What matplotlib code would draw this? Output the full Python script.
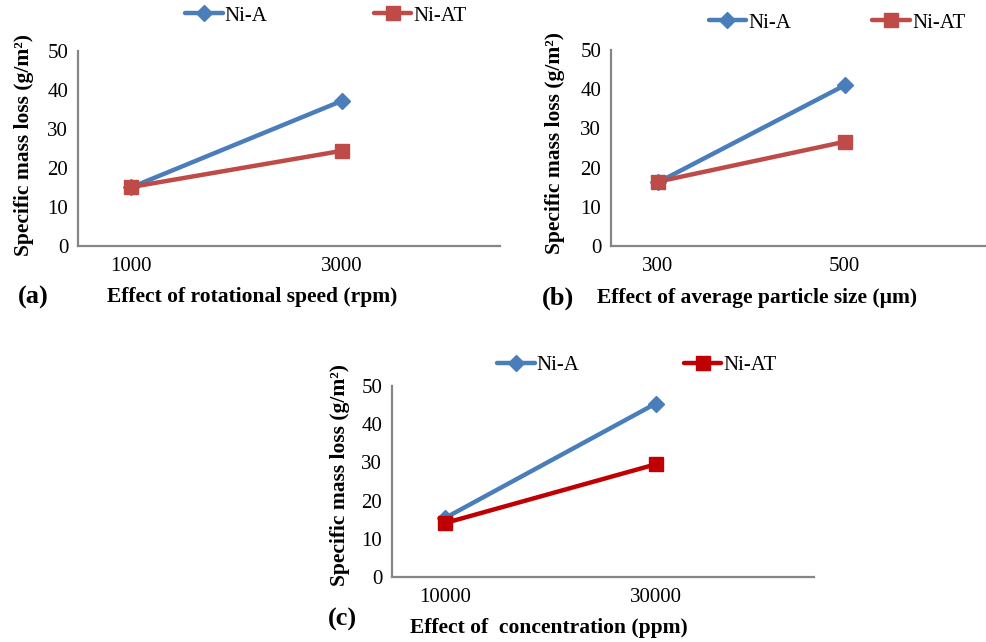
import matplotlib
matplotlib.use("Agg")
import matplotlib.pyplot as plt
import numpy as np

plt.rcParams['font.family'] = ['Liberation Serif', 'DejaVu Serif']

# ---- data ----
cats_a = ['1000', '3000']
nia_a = [15.0, 37.2]
niat_a = [15.1, 24.4]
xlabel_a = 'Effect of rotational speed (rpm)'

cats_b = ['300', '500']
nia_b = [16.2, 41.0]
niat_b = [16.4, 26.6]
xlabel_b = 'Effect of average particle size (\u00b5m)'

cats_c = ['10000', '30000']
nia_c = [15.4, 45.4]
niat_c = [14.1, 29.5]
xlabel_c = 'Effect of  concentration (ppm)'

ylabel = 'Specific mass loss (g/m\u00b2)'
yticks = [0, 10, 20, 30, 40, 50]
series_names = ['Ni-A', 'Ni-AT']

W, H = 987, 642
fig = plt.figure(figsize=(W / 100, H / 100), dpi=100)

def px_axes(left, right, top, bottom):
    return fig.add_axes([left / W, 1 - bottom / H, (right - left) / W, (bottom - top) / H])

blue = '#4A7EBB'

def panel(box, cats, a, at, red, xlabel, tag, tagpos, xlabpos, ylabpos, legpos, colsp):
    ax = px_axes(*box)
    x = np.arange(len(cats)) * 2
    ax.plot(x, a, color=blue, lw=3.2, marker='D', ms=8, label=series_names[0],
            solid_capstyle='round', zorder=3)
    ax.plot(x, at, color=red, lw=3.2, marker='s', ms=10, label=series_names[1],
            solid_capstyle='round', zorder=4)
    ax.set_xlim(-0.5, 3.5)
    ax.set_ylim(0, 50)
    ax.set_yticks(yticks)
    ax.set_xticks(x)
    ax.set_xticklabels(cats)
    for s in ['top', 'right']:
        ax.spines[s].set_visible(False)
    for s in ['left', 'bottom']:
        ax.spines[s].set_color('#868686')
        ax.spines[s].set_linewidth(1.6)
    ax.tick_params(length=0, labelsize=15, pad=7)
    ax.tick_params(axis='x', pad=8)
    ax.set_facecolor('none')
    ax.legend(ncol=2, loc='center', frameon=False, fontsize=15,
              bbox_to_anchor=((legpos[0] - box[0]) / (box[1] - box[0]),
                              (box[3] - legpos[1]) / (box[3] - box[2])),
              handlelength=1.8, handletextpad=0.1, columnspacing=colsp,
              borderaxespad=0)
    fig.text(xlabpos[0] / W, 1 - xlabpos[1] / H, xlabel, fontsize=15.5,
             fontweight='bold', ha='center', va='center')
    fig.text(tagpos[0] / W, 1 - tagpos[1] / H, tag, fontsize=19,
             fontweight='bold', ha='center', va='center')
    fig.text(ylabpos[0] / W, 1 - ylabpos[1] / H, ylabel, fontsize=15.5,
             fontweight='bold', ha='center', va='center', rotation=90)
    return ax

panel((78, 500, 51, 246), cats_a, nia_a, niat_a, '#BE4B48', xlabel_a, '(a)',
      (33, 297), (252, 297), (24, 145), (326, 16), 5.1)
panel((611, 985, 50, 246), cats_b, nia_b, niat_b, '#BE4B48', xlabel_b, '(b)',
      (558, 298), (757, 298), (555, 143), (837, 23), 3.9)
panel((392, 814, 386, 577), cats_c, nia_c, niat_c, '#C00000', xlabel_c, '(c)',
      (342, 619), (549, 628), (340, 475), (637, 365), 5.0)

fig.savefig('out.png', dpi=100)
